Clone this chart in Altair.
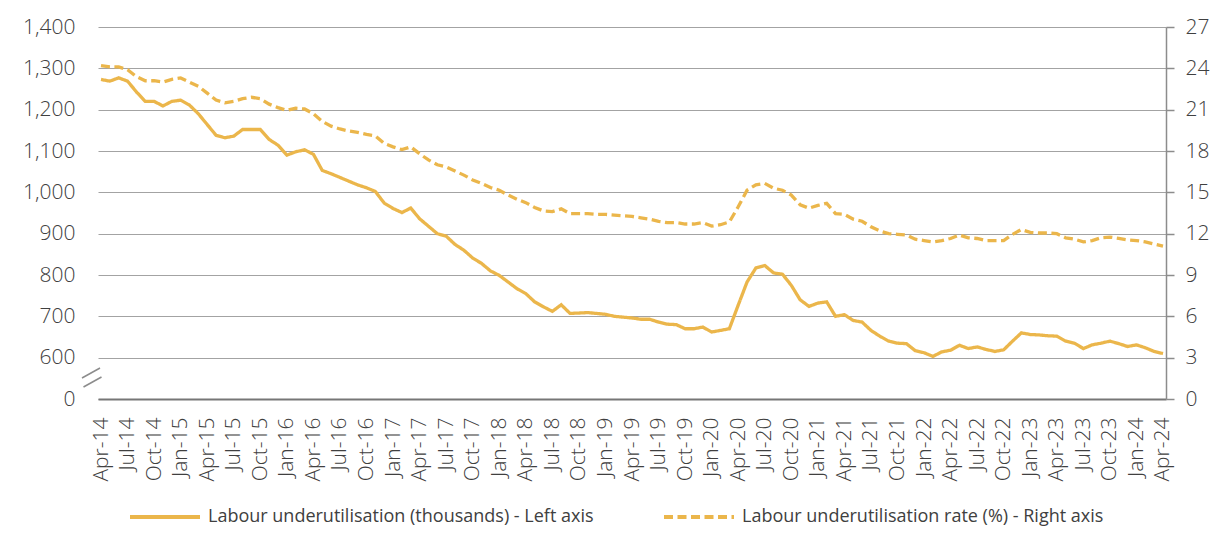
import altair as alt
import pandas as pd

# Monthly data, Apr-14 .. Apr-24
months = list(pd.date_range("2014-04-01", periods=121, freq="MS").strftime("%b-%y"))
quarter_labels = months[::3]

underutil_thousands = [
    1273, 1269, 1277, 1269, 1243, 1220, 1220, 1209, 1220, 1223, 1211, 1190,
    1164, 1138, 1132, 1136, 1152, 1152, 1152, 1128, 1114, 1090, 1098, 1103,
    1092, 1053, 1045, 1036, 1027, 1018, 1011, 1002, 974, 961, 951, 962,
    936, 918, 900, 894, 874, 860, 841, 828, 810, 799, 783, 767,
    755, 735, 723, 712, 728, 707, 708, 709, 707, 705, 700, 698,
    696, 693, 693, 686, 681, 680, 670, 670, 674, 662, 666, 670,
    727, 783, 817, 823, 805, 802, 775, 740, 724, 732, 735, 700,
    704, 690, 686, 666, 652, 640, 635, 634, 617, 612, 603, 614,
    618, 630, 622, 626, 620, 615, 619, 640, 660, 656, 655, 653,
    652, 640, 635, 622, 631, 635, 640, 634, 627, 631, 624, 615,
    610,
]

underutil_rate = [
    24.2, 24.1, 24.1, 23.9, 23.4, 23.1, 23.1, 23.0, 23.2, 23.3, 23.0, 22.7,
    22.2, 21.7, 21.5, 21.6, 21.8, 21.9, 21.8, 21.4, 21.15, 20.95, 21.1, 21.05,
    20.7, 20.15, 19.8, 19.6, 19.45, 19.35, 19.2, 19.1, 18.55, 18.3, 18.1, 18.3,
    17.8, 17.35, 17.0, 16.85, 16.55, 16.25, 15.9, 15.65, 15.35, 15.15, 14.8, 14.5,
    14.25, 13.9, 13.65, 13.6, 13.8, 13.45, 13.45, 13.45, 13.4, 13.4, 13.35, 13.3,
    13.25, 13.15, 13.05, 12.9, 12.8, 12.8, 12.7, 12.7, 12.8, 12.55, 12.65, 12.85,
    13.95, 15.15, 15.55, 15.65, 15.3, 15.15, 14.8, 14.1, 13.85, 14.05, 14.2, 13.45,
    13.4, 13.05, 12.9, 12.5, 12.2, 12.0, 11.95, 11.9, 11.6, 11.5, 11.4, 11.5,
    11.65, 11.9, 11.7, 11.65, 11.5, 11.5, 11.5, 11.95, 12.3, 12.1, 12.05, 12.05,
    12.0, 11.7, 11.6, 11.4, 11.5, 11.7, 11.75, 11.65, 11.55, 11.5, 11.4, 11.25,
    11.1,
]

series_names = [
    "Labour underutilisation (thousands) - Left axis",
    "Labour underutilisation rate (%) - Right axis",
]
left_ticks = list(range(500, 1401, 100))
right_ticks = list(range(0, 28, 3))

ORANGE = "#EBB64B"
FONT = "Open Sans"
LABEL_COLOR = "#404040"

df = pd.DataFrame({
    "month": months * 2,
    "series": [series_names[0]] * len(months) + [series_names[1]] * len(months),
    "value": underutil_thousands + underutil_rate,
})

legend = alt.Legend(
    orient="none", legendX=30, legendY=453, direction="horizontal", title=None,
    symbolType="stroke", symbolSize=4900, symbolStrokeWidth=4,
    labelFont=FONT, labelFontSize=18, labelColor=LABEL_COLOR, labelLimit=1000,
    labelOffset=6, columnPadding=62, padding=0,
)

x_enc = alt.X(
    "month:O", sort=months,
    scale=alt.Scale(type="point", padding=0.34),
    axis=alt.Axis(
        values=quarter_labels, labelAngle=270, title=None, ticks=False, tickSize=0,
        labelPadding=18, labelFont=FONT, labelFontSize=21, labelFontWeight=300,
        labelColor=LABEL_COLOR, domainColor="#767676", domainWidth=2, grid=False,
    ),
)
color_enc = alt.Color(
    "series:N", scale=alt.Scale(domain=series_names, range=[ORANGE, ORANGE]), legend=legend
)
dash_enc = alt.StrokeDash(
    "series:N", scale=alt.Scale(domain=series_names, range=[[1, 0], [9, 4.5]]), legend=legend
)

left = alt.Chart(df).transform_filter(
    alt.datum.series == series_names[0]
).mark_line(strokeWidth=3.3).encode(
    x=x_enc,
    y=alt.Y(
        "value:Q",
        scale=alt.Scale(domain=[500, 1400], nice=False, zero=False),
        axis=alt.Axis(
            values=left_ticks, title=None, orient="left", domain=False, ticks=False, tickSize=0,
            labelPadding=23, labelFont=FONT, labelFontSize=21, labelFontWeight=300,
            labelColor=LABEL_COLOR, grid=True, gridColor="#A3A3A3", gridWidth=1.2,
            labelExpr="datum.value == 500 ? '0' : format(datum.value, ',')",
        ),
    ),
    color=color_enc,
    strokeDash=dash_enc,
)

right = alt.Chart(df).transform_filter(
    alt.datum.series == series_names[1]
).mark_line(strokeWidth=3.3).encode(
    x=x_enc,
    y=alt.Y(
        "value:Q",
        scale=alt.Scale(domain=[0, 27], nice=False),
        axis=alt.Axis(
            values=right_ticks, title=None, orient="right", domain=True, domainColor="#8C8C8C",
            domainWidth=1.5, ticks=True, tickSize=8, tickColor="#8C8C8C", tickWidth=1.5,
            labelPadding=11, labelFont=FONT, labelFontSize=21, labelFontWeight=300,
            labelColor=LABEL_COLOR, grid=False,
        ),
    ),
    color=color_enc,
    strokeDash=dash_enc,
)

dummy = pd.DataFrame({"k": [0]})
brk1 = alt.Chart(dummy).mark_rule(color="#8C8C8C", strokeWidth=1.5).encode(
    x=alt.value(-16), x2=alt.value(2), y=alt.value(351), y2=alt.value(341)
)
brk2 = alt.Chart(dummy).mark_rule(color="#8C8C8C", strokeWidth=1.5).encode(
    x=alt.value(-14.5), x2=alt.value(3.5), y=alt.value(360), y2=alt.value(350)
)

chart = alt.layer(left, right, brk1, brk2).resolve_scale(
    y="independent"
).properties(
    width=1068, height=372,
    autosize=alt.AutoSizeParams(type="none"),
    padding={"left": 90, "top": 19, "right": 46, "bottom": 130},
    background="white",
).configure_view(stroke=None)

chart.save("out.html", embed_options={"renderer": "svg", "actions": False})
